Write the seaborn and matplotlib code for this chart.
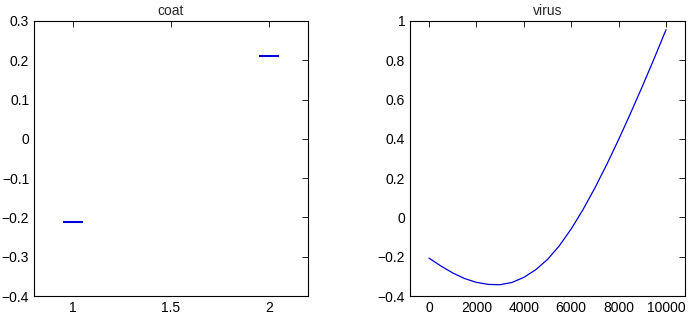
import numpy as np
import matplotlib
matplotlib.use('Agg')
import matplotlib.pyplot as plt
from matplotlib.ticker import FuncFormatter
import seaborn as sns

# coat: two short horizontal levels
coat_x = np.array([1, 2])
coat_y = np.array([-0.212, 0.212])

# virus: curve, every 500
virus_x = [0, 500, 1000, 1500, 2000, 2500, 3000, 3500, 4000, 4500, 5000,
           5500, 6000, 6500, 7000, 7500, 8000, 8500, 9000, 9500, 10000]
virus_y = [-0.207, -0.247, -0.2825, -0.311, -0.3305, -0.341, -0.3426, -0.331,
           -0.3054, -0.2665, -0.2139, -0.1442, -0.0587, 0.0403, 0.1503, 0.2696,
           0.3966, 0.5294, 0.6672, 0.8092, 0.956]

sns.set_style('white')
plt.rcParams['font.family'] = ['Liberation Sans', 'DejaVu Sans']
plt.rcParams['xtick.direction'] = 'in'
plt.rcParams['ytick.direction'] = 'in'


def fmt(v, pos):
    return ('%g' % (round(v, 6) + 0.0)).replace('-', '\u2212')


fig = plt.figure(figsize=(6.88, 3.26), dpi=100)
ax1 = fig.add_axes([34 / 688, 30 / 326, 274 / 688, 275 / 326])
ax2 = fig.add_axes([410 / 688, 30 / 326, 275 / 688, 275 / 326])

ax1.hlines(coat_y, coat_x - 0.05, coat_x + 0.05, color='#0000dd', lw=1.5)
ax1.set_xlim(0.8, 2.2)
ax1.set_ylim(-0.4, 0.3)
ax1.set_xticks([1, 1.5, 2])
ax1.set_yticks(np.round(np.arange(-0.4, 0.31, 0.1), 2))
ax1.set_title('coat', fontsize=10, pad=4)

sns.lineplot(x=virus_x, y=virus_y, ax=ax2, color='#0000dd', lw=0.9)
ax2.set_xlim(-800, 10800)
ax2.set_ylim(-0.4, 1.0)
ax2.set_xticks(range(0, 10001, 2000))
ax2.set_yticks(np.round(np.arange(-0.4, 1.01, 0.2), 2))
ax2.set_title('virus', fontsize=10, pad=4)

for ax in (ax1, ax2):
    ax.xaxis.set_major_formatter(FuncFormatter(fmt))
    ax.yaxis.set_major_formatter(FuncFormatter(fmt))
    ax.tick_params(top=True, right=True, length=4, width=0.6, labelsize=10,
                   colors='black', pad=3.5)
    for s in ax.spines.values():
        s.set_color('black')
        s.set_linewidth(0.8)
    ax.grid(False)

fig.savefig('out.png', dpi=100)
